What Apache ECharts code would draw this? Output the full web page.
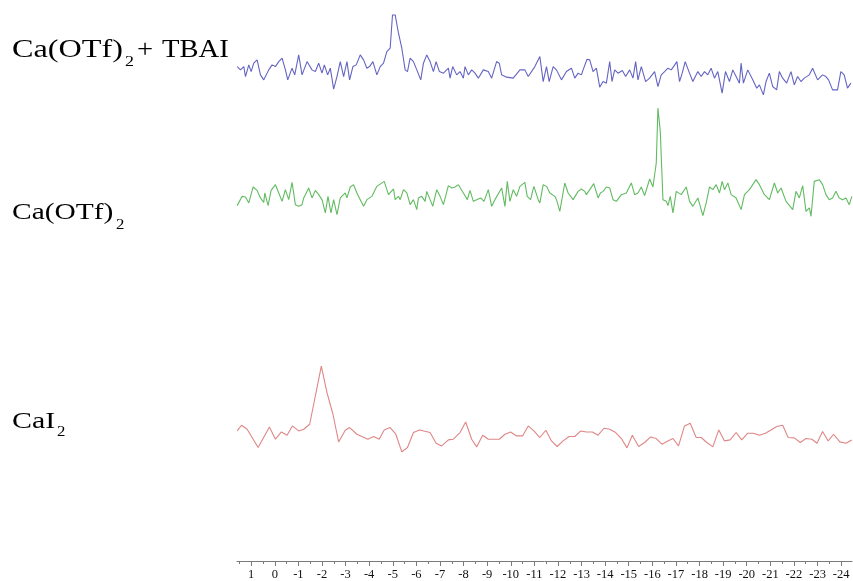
<!DOCTYPE html>
<html>
<head>
<meta charset="utf-8">
<script src="https://cdn.jsdelivr.net/npm/echarts@6/dist/echarts.min.js"></script>
<style>html,body{margin:0;padding:0;background:#fff}#c{width:853px;height:581px}</style>
</head>
<body>
<div id="c"></div>
<script>
// x axis tick marks (ppm)
const majorTicks = [1,0,-1,-2,-3,-4,-5,-6,-7,-8,-9,-10,-11,-12,-13,-14,-15,-16,-17,-18,-19,-20,-21,-22,-23,-24];
const minorTicks = [1.5,0.5,-0.5,-1.5,-2.5,-3.5,-4.5,-5.5,-6.5,-7.5,-8.5,-9.5,-10.5,-11.5,-12.5,-13.5,-14.5,-15.5,-16.5,-17.5,-18.5,-19.5,-20.5,-21.5,-22.5,-23.5];

// Ca(OTf)2 + TBAI trace
const tbaiShift = [1.593,1.452,1.311,1.241,1.100,1.001,0.889,0.748,0.607,0.466,0.254,0.113,-0.028,-0.169,-0.310,-0.451,-0.550,-0.733,-0.846,-1.015,-1.156,-1.368,-1.579,-1.720,-1.861,-2.002,-2.100,-2.241,-2.354,-2.495,-2.636,-2.777,-2.918,-3.059,-3.171,-3.312,-3.453,-3.622,-3.763,-3.904,-4.017,-4.158,-4.327,-4.468,-4.609,-4.749,-4.890,-4.989,-5.102,-5.243,-5.384,-5.525,-5.624,-5.736,-5.877,-6.018,-6.187,-6.300,-6.441,-6.582,-6.723,-6.836,-6.977,-7.146,-7.358,-7.428,-7.541,-7.710,-7.851,-7.992,-8.062,-8.203,-8.344,-8.485,-8.626,-8.837,-9.049,-9.190,-9.401,-9.514,-9.613,-9.824,-10.106,-10.388,-10.599,-10.740,-11.022,-11.233,-11.374,-11.515,-11.628,-11.797,-11.937,-12.149,-12.360,-12.572,-12.713,-12.854,-12.995,-13.065,-13.234,-13.347,-13.488,-13.629,-13.770,-13.911,-14.052,-14.193,-14.291,-14.404,-14.545,-14.728,-14.869,-15.038,-15.179,-15.292,-15.391,-15.532,-15.715,-15.884,-16.095,-16.237,-16.377,-16.518,-16.659,-16.800,-16.899,-17.040,-17.152,-17.265,-17.392,-17.575,-17.716,-17.928,-18.069,-18.210,-18.350,-18.491,-18.632,-18.773,-18.957,-19.098,-19.267,-19.408,-19.549,-19.690,-19.760,-19.859,-20.042,-20.254,-20.423,-20.536,-20.705,-20.817,-20.958,-21.099,-21.268,-21.381,-21.522,-21.691,-21.874,-22.015,-22.156,-22.297,-22.438,-22.650,-22.791,-23.002,-23.213,-23.354,-23.467,-23.636,-23.847,-23.988,-24.129,-24.270,-24.411];
const tbaiIntensity = [8.3,5,8.3,-1.7,10,3.3,11.7,15,0,-5,5,10,8.3,13.3,16.7,5,-5,6.7,0,20,0,13.3,5,3.3,11.7,1.7,10,0,6.7,-14.3,-1.7,13.3,-1.7,13.3,-5,8.3,10,20,15,6.7,8.3,13.3,0,8.3,11.7,23.3,26.7,60,60,41.7,26.7,5,3.3,16.7,13.3,5,-5,11.7,20,13.3,3.3,13.3,3.3,1.7,6.7,-3.3,8.3,0,3.3,-3.3,8.3,0,5,1.7,-3.3,5,3.3,-3.3,13.3,11.7,0,-2.3,-3.3,5,5,-1.7,8.3,18.3,-6.7,8.3,-6.7,8.3,5,-5,3.3,6.7,-3.3,1.7,0,5,15.7,15,3.3,6.7,-12.3,-6.7,-8.3,13.3,-6.7,5,1.7,4.3,-1.7,5,-3.3,13.3,-5,8.3,-6.7,-3.3,3.3,-11.7,0,3.3,6.7,5,8.3,13.3,-6.7,1.7,13.3,1.7,-6.7,3.3,-1.7,3.3,0,6.7,-3.3,3.3,-18.3,3.3,-6.7,5,-1.7,-8.3,11.7,-8.3,5,-5,-13.3,-10,-20,-6.7,1.7,-11.7,-15,3.3,-3.3,-8.3,3.3,-10,-1.7,-6.7,-3.3,0,6.7,-5,0,-1.7,-5,-15,-15,3.3,0,-13.3,-8.3];

// Ca(OTf)2 trace
const otfShift = [1.593,1.382,1.241,1.100,0.917,0.748,0.607,0.466,0.423,0.282,0.156,-0.028,-0.169,-0.310,-0.451,-0.592,-0.733,-0.874,-1.015,-1.156,-1.227,-1.438,-1.579,-1.720,-1.861,-2.002,-2.143,-2.255,-2.382,-2.495,-2.636,-2.777,-2.988,-3.059,-3.200,-3.340,-3.481,-3.622,-3.763,-3.904,-4.116,-4.327,-4.637,-4.820,-5.032,-5.102,-5.243,-5.314,-5.455,-5.596,-5.736,-5.877,-6.018,-6.089,-6.230,-6.371,-6.441,-6.582,-6.695,-6.864,-7.005,-7.146,-7.357,-7.498,-7.639,-7.780,-7.992,-8.161,-8.274,-8.415,-8.555,-8.724,-8.865,-9.049,-9.190,-9.331,-9.613,-9.754,-9.852,-9.965,-10.106,-10.247,-10.388,-10.599,-10.698,-10.839,-10.980,-11.163,-11.233,-11.374,-11.515,-11.656,-11.868,-11.938,-12.079,-12.290,-12.431,-12.502,-12.643,-12.854,-12.995,-13.136,-13.206,-13.347,-13.517,-13.700,-13.799,-13.912,-14.052,-14.193,-14.334,-14.475,-14.687,-14.898,-15.109,-15.250,-15.391,-15.532,-15.673,-15.885,-16.026,-16.166,-16.237,-16.336,-16.449,-16.590,-16.660,-16.759,-16.872,-17.013,-17.224,-17.436,-17.577,-17.718,-17.929,-18.141,-18.282,-18.423,-18.564,-18.705,-18.846,-18.958,-19.057,-19.198,-19.339,-19.550,-19.762,-19.903,-20.114,-20.396,-20.537,-20.749,-20.960,-21.171,-21.312,-21.453,-21.665,-21.947,-22.088,-22.229,-22.370,-22.511,-22.652,-22.722,-22.863,-23.074,-23.215,-23.356,-23.497,-23.638,-23.779,-23.920,-24.061,-24.202,-24.343,-24.455];
const otfIntensity = [-1,8.3,7.7,1.7,17.7,14.3,6.7,2.3,11.7,-1,14.3,20,11.7,3.3,15,5,22.3,0,-1.7,0,6.7,16.7,6.7,14.3,10,5,-8.3,8.3,-8.3,5,-10,6.7,11.7,6.7,17.7,20,11.7,5,-1.7,5,8.3,18.3,23.3,10,15.7,5,8.3,5,15,11.7,0,5,-5,6.7,8.3,3.3,13.3,5,-1.7,15,8.3,0,19,16.7,17.7,20,11.7,5,14.3,3.3,5,6.7,3.3,15,-1.7,5,16.7,-1.7,23.3,3.3,15,8.3,18.3,22.3,8.3,5,18.3,5,1.7,20,18.3,11.7,8.3,5,-6.7,21.7,11.7,13.3,5,13.3,15.7,13.3,10,15,21,6.7,11.7,13.3,17.7,16.7,5,3.3,10,11.7,21.7,10,11.7,17.7,9,25.7,17.7,41.7,96.7,73.3,5,3.3,-1,8.3,-8.3,13.3,10,17.7,3.3,-1.7,6.7,-11,1.7,17.7,15,20,11.7,23.3,15,21.7,10,6.7,-5,10,15,25,20,10,5,21.7,11.7,16.7,3.3,-5,13.3,6.7,19,-6.7,-3.3,-11.7,23.3,25,20,10,5,6.7,13.3,6.7,5,6.7,0,8.3];

// CaI2 trace
const caiShift = [1.593,1.410,1.170,0.705,0.226,-0.028,-0.282,-0.522,-0.747,-1.015,-1.226,-1.480,-1.973,-2.212,-2.466,-2.706,-2.988,-3.171,-3.481,-3.946,-4.186,-4.426,-4.637,-4.890,-5.130,-5.384,-5.624,-5.877,-6.131,-6.582,-6.836,-7.075,-7.357,-7.568,-7.851,-8.090,-8.344,-8.555,-8.809,-9.049,-9.514,-9.754,-9.993,-10.247,-10.501,-10.740,-10.980,-11.233,-11.487,-11.727,-11.966,-12.219,-12.473,-12.713,-12.967,-13.206,-13.460,-13.700,-13.953,-14.193,-14.447,-14.686,-14.926,-15.151,-15.419,-15.673,-15.927,-16.166,-16.406,-16.659,-16.871,-17.110,-17.364,-17.604,-17.858,-18.069,-18.309,-18.562,-18.816,-19.056,-19.296,-19.549,-19.789,-20.042,-20.282,-20.536,-20.790,-21.029,-21.269,-21.523,-21.755,-22.015,-22.269,-22.509,-22.762,-22.974,-23.213,-23.453,-23.678,-23.946,-24.200,-24.453];
const caiIntensity = [8.3,14,10,-8.3,12.3,0,7.3,4,13.3,8.3,10,15,73.3,46.7,25,-2.7,9,11.7,5,0,2.7,0,9.3,11.7,5,-12.7,-8.3,6.7,9.3,6.7,-4,-6.7,-0.7,0,6.7,17.3,0,-7.7,4,0,0,5,7.3,3.3,3.3,13.3,8.3,1.7,9,-1.7,-7.3,-1.7,2.7,2.7,8.3,7.3,7.3,4,11,10,6.7,0.7,-8.7,4,-7.3,-3.3,2.3,0.7,-5,-1.7,0.7,-6.7,13.3,16,1.7,1.7,-3.3,-7.7,9.3,-1.7,-0.7,6.7,-0.7,6,6,4,6,9.3,12.7,14,1.7,1.3,-3.3,0.7,0,-4,7.7,-1.7,5,-2.7,-4,-0.7];

// vertical stacking offsets of the traces
const traceOffsets = {tbai: 487, otf: 357, cai: 122};

function pairs(sh, it, off) { return sh.map((s, i) => [s, it[i] + off]); }

const chart = echarts.init(document.getElementById('c'), null, {renderer: 'canvas'});
const serif = '"Liberation Serif", "Times New Roman", serif';
function lbl(text, x, y, size, sx) {
  return {type: 'text', x: x, y: y, scaleX: sx, scaleY: 1,
    style: {text: text, font: size + 'px ' + serif, fill: '#000', align: 'left', verticalAlign: 'middle', textAlign: 'left', textVerticalAlign: 'middle'}};
}
const xCommon = {type: 'value', inverse: true, min: -24.46, max: 1.6, splitLine: {show: false}};
chart.setOption({
  animation: false,
  backgroundColor: '#fff',
  grid: {left: 237, right: 1, top: 0, bottom: 19, containLabel: false},
  xAxis: [
    Object.assign({}, xCommon, {
      position: 'bottom',
      axisLine: {show: true, lineStyle: {color: '#7a7a7a', width: 1}},
      axisTick: {show: true, customValues: majorTicks, length: 5, lineStyle: {color: '#7a7a7a'}},
      axisLabel: {show: true, customValues: majorTicks, margin: 7, fontFamily: serif, fontSize: 12.5, color: '#111'}
    }),
    Object.assign({}, xCommon, {
      position: 'bottom',
      axisLine: {show: false},
      axisTick: {show: true, customValues: minorTicks, length: 3, lineStyle: {color: '#7a7a7a'}},
      axisLabel: {show: false}
    })
  ],
  yAxis: {type: 'value', min: 0, max: 562, show: false, splitLine: {show: false}},
  series: [
    {type: 'line', data: pairs(tbaiShift, tbaiIntensity, traceOffsets.tbai), showSymbol: false, symbol: 'none', lineStyle: {color: '#6464c4', width: 1.1}},
    {type: 'line', data: pairs(otfShift, otfIntensity, traceOffsets.otf), showSymbol: false, symbol: 'none', lineStyle: {color: '#62bb62', width: 1.1}},
    {type: 'line', data: pairs(caiShift, caiIntensity, traceOffsets.cai), showSymbol: false, symbol: 'none', lineStyle: {color: '#df8686', width: 1.1}}
  ],
  graphic: [
    lbl('Ca(OTf)', 12, 50, 26, 1.24), lbl('2', 125, 62, 15, 1.2), lbl('+', 137, 50, 26, 1.1), lbl('TBAI', 162, 50, 26, 1.1),
    lbl('Ca(OTf)', 12, 212.5, 23, 1.28), lbl('2', 116, 225, 14, 1.2),
    lbl('CaI', 12, 421.5, 23, 1.3), lbl('2', 57, 432.5, 14, 1.2)
  ]
});
</script>
</body>
</html>
